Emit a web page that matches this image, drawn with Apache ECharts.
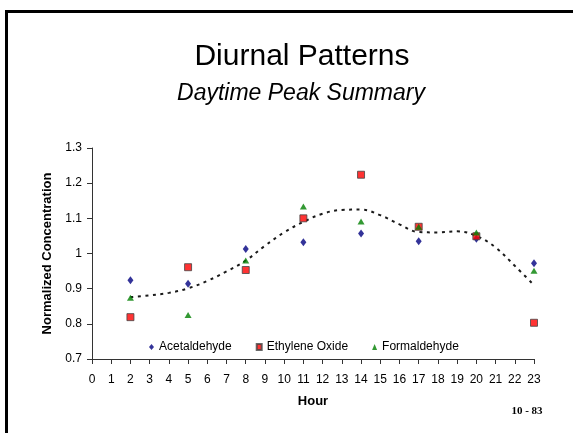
<!DOCTYPE html>
<html>
<head>
<meta charset="utf-8">
<script src="https://cdn.jsdelivr.net/npm/echarts@6/dist/echarts.min.js"></script>
<style>
  html, body { margin: 0; padding: 0; background: #fff; }
  #chart { width: 573px; height: 433px; }
</style>
</head>
<body>
<div id="chart"></div>
<script>
// ---- data ----
var hours = [2, 5, 8, 11, 14, 17, 20, 23];
var acetaldehyde = [0.924, 0.914, 1.013, 1.032, 1.057, 1.035, 1.042, 0.972];
var ethyleneOxide = [0.819, 0.961, 0.953, 1.100, 1.224, 1.076, 1.049, 0.803];
var formaldehyde = [0.874, 0.825, 0.980, 1.134, 1.091, 1.076, 1.060, 0.951];
var trendHours = [2, 3, 4, 5, 6, 7, 8, 9, 10, 11, 12, 13, 14, 15, 16, 17, 18, 19, 20, 21, 22, 23];
var trendValues = [0.876, 0.881, 0.888, 0.901, 0.922, 0.949, 0.980, 1.022, 1.060, 1.090, 1.113,
                   1.124, 1.125, 1.109, 1.083, 1.061, 1.060, 1.063, 1.050, 1.017, 0.965, 0.910];
var seriesNames = ['Acetaldehyde', 'Ethylene Oxide', 'Formaldehyde'];
var titleText = 'Diurnal Patterns';
var subtitleText = 'Daytime Peak Summary';
var pageText = '10 - 83';
var xName = 'Hour';
var yName = 'Normalized Concentration';

function pairs(xs, ys) { return xs.map(function (x, i) { return [x, ys[i]]; }); }

var FONT = '"Liberation Sans", Arial, sans-serif';
var chart = echarts.init(document.getElementById('chart'), null, { renderer: 'canvas' });

chart.setOption({
  backgroundColor: '#ffffff',
  animation: false,
  textStyle: { fontFamily: FONT },
  grid: { left: 92, right: 39, top: 148, bottom: 74, containLabel: false },
  graphic: [
    { type: 'rect', shape: { x: 5, y: 10, width: 568, height: 3 }, style: { fill: '#000' } },
    { type: 'rect', shape: { x: 5, y: 10, width: 3, height: 423 }, style: { fill: '#000' } },
    { type: 'text', x: 302, y: 57, style: { text: titleText, fontFamily: FONT, fontSize: 30, fill: '#000', textAlign: 'center', textVerticalAlign: 'middle' } },
    { type: 'text', x: 301, y: 94, style: { text: subtitleText, fontFamily: FONT, fontStyle: 'italic', fontSize: 23, fill: '#000', textAlign: 'center', textVerticalAlign: 'middle' } },
    { type: 'text', x: 527, y: 411, style: { text: pageText, fontFamily: '"Liberation Serif", "Times New Roman", serif', fontWeight: 'bold', fontSize: 11, fill: '#000', textAlign: 'center', textVerticalAlign: 'middle' } }
  ],
  legend: {
    data: seriesNames,
    left: 149, top: 341, padding: 0,
    itemWidth: 5, itemHeight: 6, itemGap: 24,
    textStyle: { fontFamily: FONT, fontSize: 12, color: '#000' }
  },
  xAxis: {
    type: 'value', min: 0, max: 23, interval: 1,
    name: xName, nameLocation: 'middle', nameGap: 36,
    nameTextStyle: { fontFamily: FONT, fontSize: 13, fontWeight: 'bold', color: '#000' },
    axisLine: { show: true, lineStyle: { color: '#333', width: 1 } },
    axisTick: { show: true, length: 5, lineStyle: { color: '#333' } },
    axisLabel: { fontFamily: FONT, fontSize: 12, color: '#000', margin: 15 },
    splitLine: { show: false }
  },
  yAxis: {
    type: 'value', min: 0.7, max: 1.3, interval: 0.1,
    name: yName, nameLocation: 'middle', nameGap: 36,
    nameTextStyle: { fontFamily: FONT, fontSize: 13, fontWeight: 'bold', color: '#000' },
    axisLine: { show: true, lineStyle: { color: '#333', width: 1 } },
    axisTick: { show: true, length: 5, lineStyle: { color: '#333' } },
    axisLabel: { fontFamily: FONT, fontSize: 12, color: '#000', margin: 10,
      formatter: function (v) { return String(Math.round(v * 10) / 10); } },
    splitLine: { show: false }
  },
  series: [
    {
      name: 'trend', type: 'line', data: pairs(trendHours, trendValues),
      smooth: 0.4, showSymbol: false, symbol: 'none', silent: true, z: 1,
      lineStyle: { color: '#1a1a1a', width: 2, type: [3, 4.5], cap: 'butt' }
    },
    {
      name: seriesNames[0], type: 'scatter', data: pairs(hours, acetaldehyde),
      symbol: 'diamond', symbolSize: [6, 8], z: 3,
      itemStyle: { color: '#000080' }
    },
    {
      name: seriesNames[1], type: 'scatter', data: pairs(hours, ethyleneOxide),
      symbol: 'rect', symbolSize: 7, z: 3,
      itemStyle: { color: '#ff0000', borderColor: '#444', borderWidth: 1 }
    },
    {
      name: seriesNames[2], type: 'scatter', data: pairs(hours, formaldehyde),
      symbol: 'triangle', symbolSize: [7, 6], z: 3,
      itemStyle: { color: '#008000' }
    }
  ]
});
</script>
</body>
</html>
